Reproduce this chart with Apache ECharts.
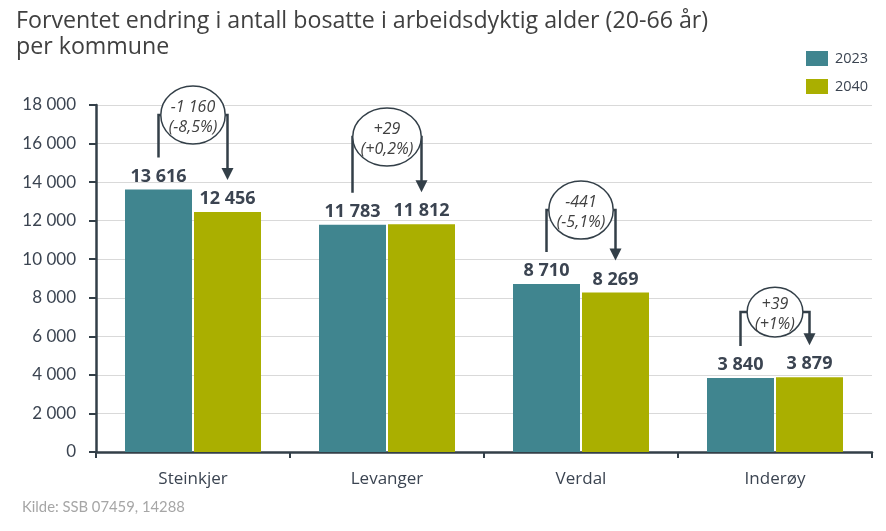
<!DOCTYPE html>
<html>
<head>
<meta charset="utf-8">
<script src="https://cdn.jsdelivr.net/npm/echarts@6/dist/echarts.min.js"></script>
<style>
html,body{margin:0;padding:0;background:#fff;}
#chart{width:886px;height:531px;}
</style>
</head>
<body>
<div id="chart"></div>
<script>
// ---- Data ----
const categories = ['Steinkjer', 'Levanger', 'Verdal', 'Inderøy'];
const seriesNames = ['2023', '2040'];
const values2023 = [13616, 11783, 8710, 3840];
const values2040 = [12456, 11812, 8269, 3879];
// height (in axis units) of the centre of each change bubble
const bubbleLevel = [17480, 16340, 12550, 7260];
const yTicks = [0, 2000, 4000, 6000, 8000, 10000, 12000, 14000, 16000, 18000];
const titleText = 'Forventet endring i antall bosatte i arbeidsdyktig alder (20-66 år)\nper kommune';
const sourceText = 'Kilde: SSB 07459, 14288';

// ---- Styling ----
const FONT = 'Lato, "Open Sans", sans-serif';
const FONT2 = '"Open Sans", Lato, sans-serif';
const C23 = '#40858f';
const C40 = '#aaaf00';
const DARK = '#333f48';
const TXT = '#3b4451';
const BAR_W = 67;
const BAR_GAP_PX = 2;

function fmt(n) {
  const s = String(Math.abs(Math.round(n))).replace(/\B(?=(\d{3})+(?!\d))/g, ' ');
  return (n < 0 ? '-' : '') + s;
}
function fmtSigned(n) { return (n > 0 ? '+' : '') + fmt(n); }
function fmtPct(p) {
  let s = Math.abs(p).toFixed(1).replace(/\.0$/, '').replace('.', ',');
  return (p >= 0 ? '+' : '-') + s + '%';
}

const measureCtx = document.createElement('canvas').getContext('2d');
function textW(t, font) { measureCtx.font = font; return measureCtx.measureText(t).width; }

const annoData = categories.map((c, i) => [i, values2023[i], values2040[i], bubbleLevel[i]]);

const chart = echarts.init(document.getElementById('chart'), null, {renderer: 'canvas'});

const option = {
  backgroundColor: '#ffffff',
  animation: false,
  textStyle: {fontFamily: FONT},
  title: {
    text: titleText,
    left: 11, top: 3,
    textStyle: {fontFamily: FONT2, fontSize: 23.2, fontWeight: 'normal', color: '#404040', lineHeight: 26}
  },
  legend: {
    data: seriesNames,
    orient: 'vertical',
    left: 801, top: 46,
    itemWidth: 22, itemHeight: 15, itemGap: 13,
    icon: 'rect',
    textStyle: {fontFamily: FONT2, fontSize: 14.5, color: TXT, padding: [0, 0, 0, 2]}
  },
  grid: {left: 96, right: 14, top: 105, bottom: 79, containLabel: false},
  xAxis: {
    type: 'category',
    data: categories,
    axisLine: {lineStyle: {color: DARK, width: 2.5}},
    axisTick: {show: true, length: 6, lineStyle: {color: DARK, width: 2}},
    axisLabel: {fontFamily: FONT2, fontSize: 17, color: TXT, margin: 19}
  },
  yAxis: {
    type: 'value',
    min: 0, max: 18000, interval: 2000,
    axisLine: {show: true, lineStyle: {color: DARK, width: 2.5}},
    axisTick: {show: true, length: 7, lineStyle: {color: DARK, width: 2}},
    axisLabel: {fontFamily: FONT, fontSize: 17, color: TXT, margin: 20, formatter: v => fmt(v)},
    splitLine: {lineStyle: {color: '#d9d9d9', width: 1}}
  },
  series: [
    {
      name: seriesNames[0], type: 'bar', data: values2023,
      barWidth: BAR_W, barGap: (BAR_GAP_PX / BAR_W * 100) + '%',
      itemStyle: {color: C23},
      label: {show: true, position: 'top', distance: 4, formatter: p => fmt(p.value),
        fontFamily: FONT2, fontSize: 18, fontWeight: 'bold', color: TXT}
    },
    {
      name: seriesNames[1], type: 'bar', data: values2040,
      barWidth: BAR_W,
      itemStyle: {color: C40},
      label: {show: true, position: 'top', distance: 4, formatter: p => fmt(p.value),
        fontFamily: FONT2, fontSize: 18, fontWeight: 'bold', color: TXT}
    },
    {
      name: 'endring', type: 'custom', data: annoData, clip: false, z: 5,
      renderItem: function (params, api) {
        const i = api.value(0), v1 = api.value(1), v2 = api.value(2), lvl = api.value(3);
        const cx = api.coord([i, 0])[0];
        const off = (BAR_W + BAR_GAP_PX) / 2;
        const x1 = cx - off, x2 = cx + off;
        const y1 = api.coord([i, v1])[1] - 32;
        const y2 = api.coord([i, v2])[1] - 32;
        const cy = api.coord([i, lvl])[1];
        const diff = v2 - v1;
        const pct = diff / v1 * 100;
        const t1 = fmtSigned(diff), t2 = '(' + fmtPct(pct) + ')';
        const font = 'italic 16px ' + FONT2;
        const tw = Math.max(textW(t1, font), textW(t2, font));
        const rx = Math.min(off + 2, tw / 2 + 8);
        const ry = Math.min(29, rx - 3);
        const lw = 2.5;
        const ah = 12, aw = 6;
        return {
          type: 'group',
          children: [
            {type: 'polyline', shape: {points: [[x1, y1], [x1, cy], [cx - rx, cy]]},
              style: {stroke: DARK, lineWidth: lw, fill: null}},
            {type: 'polyline', shape: {points: [[cx + rx, cy], [x2, cy], [x2, y2 - ah + 1]]},
              style: {stroke: DARK, lineWidth: lw, fill: null}},
            {type: 'polygon', shape: {points: [[x2 - aw, y2 - ah], [x2 + aw, y2 - ah], [x2, y2]]},
              style: {fill: DARK}},
            {type: 'ellipse', shape: {cx: cx, cy: cy, rx: rx, ry: ry},
              style: {fill: '#ffffff', stroke: DARK, lineWidth: 1.5}},
            {type: 'text', style: {x: cx, y: cy + 2, text: t1 + '\n' + t2, align: 'center', verticalAlign: 'middle',
              font: font, lineHeight: 20, fill: '#404040'}}
          ]
        };
      }
    }
  ],
  graphic: [
    {type: 'text', left: 22, top: 500, style: {text: sourceText, font: '14.8px ' + FONT, fill: '#a6a6a6'}}
  ]
};
chart.setOption(option);
</script>
</body>
</html>
